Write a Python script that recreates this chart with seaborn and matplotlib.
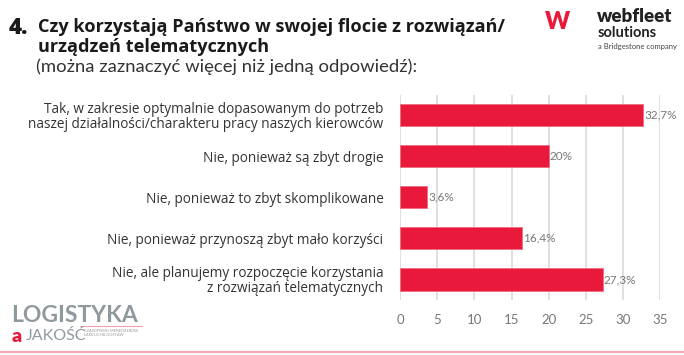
import matplotlib
matplotlib.use("Agg")
import matplotlib.pyplot as plt
import seaborn as sns
import pandas as pd

categories = [
    "Tak, w zakresie optymalnie dopasowanym do potrzeb\nnaszej działalności/charakteru pracy naszych kierowców",
    "Nie, ponieważ są zbyt drogie",
    "Nie, ponieważ to zbyt skomplikowane",
    "Nie, ponieważ przynoszą zbyt mało korzyści",
    "Nie, ale planujemy rozpoczęcie korzystania\nz rozwiązań telematycznych",
]
values = [32.7, 20, 3.6, 16.4, 27.3]
value_labels = ["32,7%", "20%", "3,6%", "16,4%", "27,3%"]
xticks = [0, 5, 10, 15, 20, 25, 30, 35]

sns.set_theme(style="white")
plt.rcParams["font.family"] = ["Lato", "DejaVu Sans"]

df = pd.DataFrame({"cat": categories, "val": values})

fig = plt.figure(figsize=(6.84, 3.55), dpi=100)
ax = fig.add_axes([0.585, 0.155, 0.38, 0.578])
sns.barplot(data=df, y="cat", x="val", color="#E8193A", saturation=1, width=0.54, ax=ax, orient="h")
for p in ax.patches:
    p.set_edgecolor("#F06C7F")
    p.set_linewidth(0.6)
ax.set_xlim(0, 35)
ax.set_xticks(xticks)
ax.set_xticklabels([str(t) for t in xticks], color="#777777", fontsize=9.5)
ax.tick_params(axis="x", length=0, pad=10)
ax.tick_params(axis="y", length=0, pad=12, labelsize=9.8, labelcolor="#333333")
for lab in ax.get_yticklabels():
    lab.set_horizontalalignment("right")
    lab.set_multialignment("right")
    lab.set_linespacing(1.0)
    lab.set_family(["Open Sans", "DejaVu Sans"])
ax.set_xlabel("")
ax.set_ylabel("")
for s in ax.spines.values():
    s.set_visible(False)
ax.grid(axis="x", color="#DADADA", linewidth=1.2)
ax.set_axisbelow(True)
for i, (v, t) in enumerate(zip(values, value_labels)):
    ax.text(v + 0.15, i, t, va="center", ha="left", fontsize=8.5, color="#777777")

# Title
title_font = ["Open Sans", "DejaVu Sans"]
fig.text(9/684, 1 - 28/355, "4.", fontsize=16, fontweight="heavy", color="#1A1A1A", va="center", family=title_font)
fig.text(38/684, 1 - 27/355, "Czy korzystają Państwo w swojej flocie z rozwiązań/",
         fontsize=13.1, fontweight="bold", color="#1A1A1A", va="center", family=title_font)
fig.text(38/684, 1 - 47/355, "urządzeń telematycznych",
         fontsize=13.1, fontweight="bold", color="#1A1A1A", va="center", family=title_font)
fig.text(36/684, 1 - 67/355, "(można zaznaczyć więcej niż jedną odpowiedź):",
         fontsize=13.3, color="#333333", va="center")

# webfleet logo (approximation)
fig.text(558/684, 1 - 22/355, "W", fontsize=17, fontweight="heavy", color="#E8193A", va="center", ha="center")
fig.text(597/684, 1 - 17/355, "webfleet", fontsize=13.5, fontweight="heavy", color="#222222", va="center", ha="left")
fig.text(598/684, 1 - 33/355, "solutions", fontsize=10.5, fontweight="bold", color="#222222", va="center", ha="left")
fig.text(598/684, 1 - 46/355, "a Bridgestone company", fontsize=5.5, color="#444444", va="center", ha="left")

# Logistyka a Jakość logo (approximation)
fig.text(11/684, 1 - 315/355, "LOGISTYKA", fontsize=16.5, fontweight="bold", color="#8F9A9E", va="center", ha="left")
fig.text(12/684, 1 - 337/355, "a", fontsize=14, fontweight="heavy", color="#E8193A", va="center", ha="left")
fig.text(26/684, 1 - 336/355, "JAKOŚĆ", fontsize=11.5, color="#8F9A9E", va="center", ha="left")
fig.text(84/684, 1 - 333/355, "CZASOPISMO MENEDŻERÓW\nŁAŃCUCHA DOSTAW", fontsize=2.8, color="#999999", va="center", ha="left")
fig.add_artist(plt.Line2D([80/684, 142/684], [1 - 326/355, 1 - 326/355], color="#F0A0AA", linewidth=0.8))
fig.add_artist(plt.Line2D([0, 1], [1 - 352/355, 1 - 352/355], color="#F4A5B0", linewidth=1.5))

fig.savefig("out.png", dpi=100)
